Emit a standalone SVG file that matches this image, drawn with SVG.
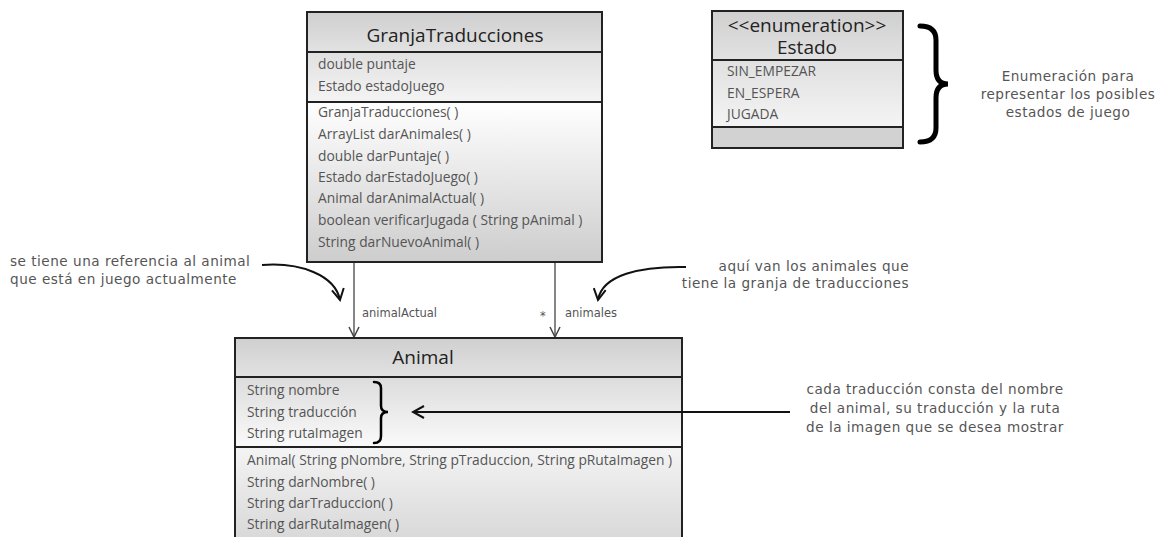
<svg xmlns="http://www.w3.org/2000/svg" width="1174" height="537" viewBox="0 0 1174 537">
<defs>
<linearGradient id="gHead" x1="0" y1="0" x2="0" y2="1"><stop offset="0" stop-color="#cfcfcf"/><stop offset="1" stop-color="#e2e2e2"/></linearGradient>
<linearGradient id="gAttr" x1="0" y1="0" x2="0" y2="1"><stop offset="0" stop-color="#e0e0e0"/><stop offset="1" stop-color="#f4f4f4"/></linearGradient>
<linearGradient id="gMeth" x1="0" y1="0" x2="0" y2="1"><stop offset="0" stop-color="#ffffff"/><stop offset="1" stop-color="#cdcdcd"/></linearGradient>
<linearGradient id="gAttrA" x1="0" y1="0" x2="0" y2="1"><stop offset="0" stop-color="#dcdcdc"/><stop offset="1" stop-color="#fafafa"/></linearGradient>
<linearGradient id="gMethA" x1="0" y1="0" x2="0" y2="1"><stop offset="0" stop-color="#f4f4f4"/><stop offset="1" stop-color="#d6d6d6"/></linearGradient>
<marker id="open" viewBox="0 0 12 12" refX="11" refY="6" markerWidth="12" markerHeight="12" markerUnits="userSpaceOnUse" orient="auto"><path d="M1,1 L11,6 L1,11" fill="none" stroke="#444" stroke-width="1.5"/></marker>
<marker id="openB" viewBox="0 0 14 14" refX="12" refY="7" markerWidth="14" markerHeight="14" markerUnits="userSpaceOnUse" orient="auto"><path d="M1,1 L12,7 L1,13" fill="none" stroke="#111" stroke-width="2"/></marker>
</defs>
<style>
.box{stroke:#222;stroke-width:2}
.title{font-family:"Open Sans",sans-serif;font-size:19px;fill:#222;text-anchor:middle}
.m{font-family:"Open Sans",sans-serif;font-size:13.8px;fill:#555}
.note{font-family:"DejaVu Sans",sans-serif;font-size:13.6px;letter-spacing:0.5px;fill:#555}
.lbl{font-family:"DejaVu Sans",sans-serif;font-size:11.5px;fill:#555}
.conn{fill:none;stroke:#444;stroke-width:1.3}
.curve{fill:none;stroke:#111;stroke-width:2}
.brace{fill:none;stroke:#000;stroke-linecap:round}
</style>
<rect width="1174" height="537" fill="#fff"/>

<g id="connectors">
<line class="conn" x1="354" y1="263" x2="354" y2="337" marker-end="url(#open)"/>
<line class="conn" x1="555" y1="263" x2="555" y2="337" marker-end="url(#open)"/>
<text class="lbl" x="362" y="317">animalActual</text>
<text class="lbl" x="540" y="320" font-size="15px">*</text>
<text class="lbl" x="565" y="317">animales</text>
</g>

<g id="GranjaTraducciones">
<rect class="box" x="307" y="12" width="295" height="40" fill="url(#gHead)"/>
<rect class="box" x="307" y="52" width="295" height="50" fill="url(#gAttr)"/>
<rect class="box" x="307" y="102" width="295" height="160" fill="url(#gMeth)"/>
<text class="title" x="455" y="42">GranjaTraducciones</text>
<text class="m" x="318" y="69">double puntaje</text>
<text class="m" x="318" y="91">Estado estadoJuego</text>
<text class="m" x="318" y="117">GranjaTraducciones( )</text>
<text class="m" x="318" y="139">ArrayList darAnimales( )</text>
<text class="m" x="318" y="161">double darPuntaje( )</text>
<text class="m" x="318" y="182">Estado darEstadoJuego( )</text>
<text class="m" x="318" y="203">Animal darAnimalActual( )</text>
<text class="m" x="318" y="225">boolean verificarJugada ( String pAnimal )</text>
<text class="m" x="318" y="247">String darNuevoAnimal( )</text>
</g>

<g id="Estado">
<rect class="box" x="712" y="11" width="191" height="49" fill="url(#gHead)"/>
<rect class="box" x="712" y="60" width="191" height="67" fill="url(#gAttr)"/>
<rect class="box" x="712" y="127" width="191" height="21" fill="#d2d2d2"/>
<text class="title" x="807" y="32" font-size="18.5px">&lt;&lt;enumeration&gt;&gt;</text>
<text class="title" x="807" y="54" font-size="18.5px">Estado</text>
<text class="m" x="727" y="76">SIN_EMPEZAR</text>
<text class="m" x="727" y="98">EN_ESPERA</text>
<text class="m" x="727" y="119">JUGADA</text>
</g>

<g id="EstadoNote">
<path class="brace" stroke-width="5" d="M920,26 Q936,26 936,40 L936,70 Q936,84 948,84 Q936,84 936,98 L936,128 Q936,142 920,142"/>
<text class="note" x="1068" y="81" text-anchor="middle">Enumeración para</text>
<text class="note" x="1068" y="99" text-anchor="middle">representar los posibles</text>
<text class="note" x="1068" y="117" text-anchor="middle">estados de juego</text>
</g>

<g id="NoteAnimalActual">
<text class="note" x="10" y="266">se tiene una referencia al animal</text>
<text class="note" x="10" y="284">que está en juego actualmente</text>
<path class="curve" d="M262,265 C300,262 335,275 340,300" marker-end="url(#openB)"/>
</g>

<g id="NoteAnimales">
<text class="note" x="909" y="271" text-anchor="end">aquí van los animales que</text>
<text class="note" x="909" y="288" text-anchor="end">tiene la granja de traducciones</text>
<path class="curve" d="M686,267 C640,266 602,275 598,300" marker-end="url(#openB)"/>
</g>

<g id="Animal">
<rect class="box" x="235" y="338" width="447" height="39" fill="url(#gHead)"/>
<rect class="box" x="235" y="377" width="447" height="70" fill="url(#gAttrA)"/>
<rect class="box" x="235" y="447" width="447" height="100" fill="url(#gMethA)"/>
<text class="title" x="423" y="364">Animal</text>
<text class="m" x="247" y="395">String nombre</text>
<text class="m" x="247" y="417">String traducción</text>
<text class="m" x="247" y="438">String rutaImagen</text>
<text class="m" x="247" y="465">Animal( String pNombre, String pTraduccion, String pRutaImagen )</text>
<text class="m" x="247" y="487">String darNombre( )</text>
<text class="m" x="247" y="508">String darTraduccion( )</text>
<text class="m" x="247" y="529">String darRutaImagen( )</text>
</g>

<g id="NoteAnimalAttrs">
<path class="brace" stroke-width="2.5" d="M374,382 Q381,382 381,388 L381,406 Q381,412 388,412 Q381,412 381,418 L381,436 Q381,443 374,443"/>
<line class="curve" x1="790" y1="412" x2="413" y2="412" marker-end="url(#openB)"/>
<text class="note" x="935" y="394" text-anchor="middle">cada traducción consta del nombre</text>
<text class="note" x="935" y="413" text-anchor="middle">del animal, su traducción y la ruta</text>
<text class="note" x="935" y="432" text-anchor="middle">de la imagen que se desea mostrar</text>
</g>
</svg>
